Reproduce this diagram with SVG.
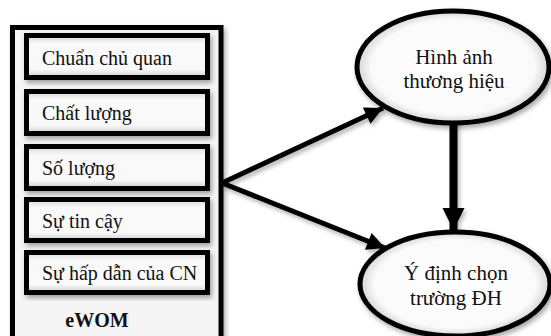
<svg xmlns="http://www.w3.org/2000/svg" width="551" height="336" viewBox="0 0 551 336">
<defs>
<filter id="sh" x="-20%" y="-20%" width="140%" height="140%">
<feDropShadow dx="2" dy="3" stdDeviation="2.5" flood-color="#000" flood-opacity="0.35"/>
</filter>
<filter id="shl" filterUnits="userSpaceOnUse" x="0" y="0" width="551" height="336">
<feDropShadow dx="2" dy="3" stdDeviation="2" flood-color="#000" flood-opacity="0.3"/>
</filter>
<linearGradient id="boxg" x1="0" y1="0" x2="0" y2="1">
<stop offset="0" stop-color="#d8d8d8"/>
<stop offset="0.2" stop-color="#f9f9f9"/>
<stop offset="0.8" stop-color="#f9f9f9"/>
<stop offset="1" stop-color="#cfcfcf"/>
</linearGradient>
<radialGradient id="ellg" cx="0.5" cy="0.5" r="0.5">
<stop offset="0" stop-color="#ffffff"/>
<stop offset="0.85" stop-color="#fafafa"/>
<stop offset="1" stop-color="#d4d4d4"/>
</radialGradient>
<marker id="ah" viewBox="0 0 10 10" refX="10" refY="5" markerWidth="4.4" markerHeight="3.6" markerUnits="strokeWidth" orient="auto">
<path d="M0,0 L10,5 L0,10 z" fill="#000"/>
</marker>
<marker id="ahv" viewBox="0 0 10 10" refX="10" refY="5" markerWidth="2.8" markerHeight="2.9" markerUnits="strokeWidth" orient="auto">
<path d="M0,0 L10,5 L0,10 z" fill="#000"/>
</marker>
</defs>
<style>
.box{fill:url(#boxg);stroke:#000;stroke-width:5;}
.t{font-family:'Liberation Serif','Times New Roman','DejaVu Serif',serif;font-size:20px;fill:#111;}
.c{text-anchor:middle;font-size:21px;}
.ell{fill:url(#ellg);stroke:#000;stroke-width:5;}
.ln{stroke:#000;fill:none;}
</style>
<g id="ewom">
<rect x="12.5" y="27.5" width="208.5" height="320" fill="#f5f5f5" stroke="#000" stroke-width="5" filter="url(#sh)"/>
<text class="t" x="97" y="327" text-anchor="middle" font-weight="bold" font-size="24" font-family="Liberation Serif, serif">eWOM</text>
</g>
<g id="chuan">
<rect class="box" x="26.5" y="35.5" width="181" height="42" filter="url(#sh)"/>
<text class="t" x="42" y="65" font-family="Liberation Serif, serif">Chuẩn chủ quan</text>
</g>
<g id="chatluong">
<rect class="box" x="26.5" y="91.5" width="181" height="42" filter="url(#sh)"/>
<text class="t" x="42" y="120" font-family="Liberation Serif, serif">Chất lượng</text>
</g>
<g id="soluong">
<rect class="box" x="26.5" y="146.5" width="181" height="42" filter="url(#sh)"/>
<text class="t" x="42" y="175" font-family="Liberation Serif, serif">Số lượng</text>
</g>
<g id="tincay">
<rect class="box" x="26.5" y="199.5" width="181" height="41" filter="url(#sh)"/>
<text class="t" x="42" y="228" font-family="Liberation Serif, serif">Sự tin cậy</text>
</g>
<g id="hapdan">
<rect class="box" x="26.5" y="252.5" width="181" height="40" filter="url(#sh)"/>
<text class="t" x="42" y="280" font-family="Liberation Serif, serif">Sự hấp dẫn của CN</text>
</g>
<g id="connectors" filter="url(#shl)">
<line class="ln" x1="222" y1="183" x2="383" y2="108" stroke-width="5" marker-end="url(#ah)"/>
<line class="ln" x1="222" y1="183" x2="385" y2="248" stroke-width="5" marker-end="url(#ah)"/>
<line class="ln" x1="453.5" y1="120" x2="453.5" y2="230" stroke-width="8" marker-end="url(#ahv)"/>
</g>
<g id="hinhanh">
<ellipse class="ell" cx="453" cy="67" rx="96" ry="56" filter="url(#sh)"/>
<text class="t c" x="454" y="64" font-family="Liberation Serif, serif">Hình ảnh</text>
<text class="t c" x="454" y="88" font-family="Liberation Serif, serif">thương hiệu</text>
</g>
<g id="ydinh">
<ellipse class="ell" cx="455" cy="284" rx="95" ry="52" filter="url(#sh)"/>
<text class="t c" x="456" y="280" font-family="Liberation Serif, serif">Ý định chọn</text>
<text class="t c" x="456" y="305" font-family="Liberation Serif, serif">trường ĐH</text>
</g>
</svg>
